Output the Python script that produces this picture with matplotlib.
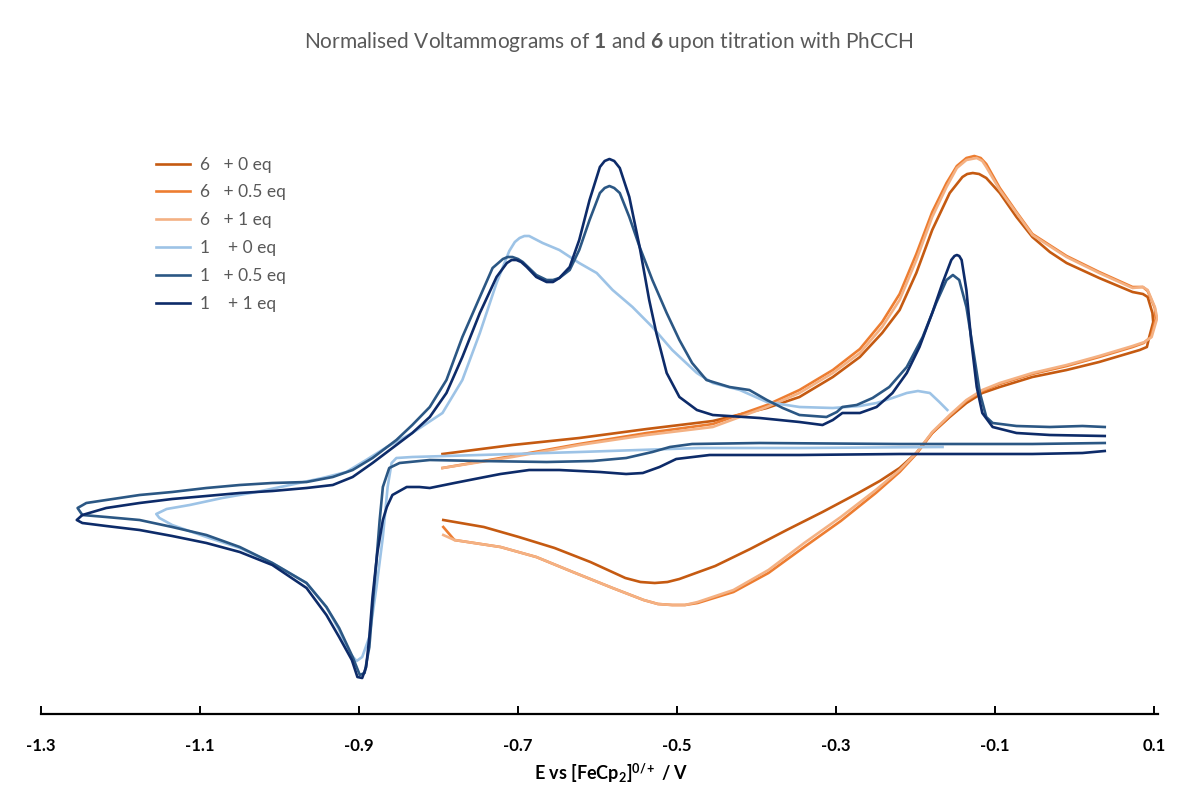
"""Normalised voltammograms of 1 and 6 upon titration with PhCCH."""

import numpy as np
import matplotlib
matplotlib.use("Agg")
import matplotlib.pyplot as plt
from matplotlib import rcParams

rcParams.update({
    "font.family": ["Lato", "DejaVu Sans"],
    "mathtext.fontset": "custom",
    "mathtext.rm": "Lato",
    "mathtext.bf": "Lato:bold",
    "mathtext.it": "Lato:italic",
})

# ---- data: potential E (V vs Fc) and normalised current ----
# 6 + 0 eq
E6_0 = [-0.795, -0.707, -0.623, -0.538, -0.455, -0.387, -0.346, -0.304, -0.270, -0.242,
        -0.220, -0.199, -0.179, -0.157, -0.141, -0.135, -0.128, -0.120, -0.111, -0.094,
        -0.073, -0.053, -0.031, -0.010, 0.031, 0.073, 0.086, 0.092, 0.098, 0.099,
        0.094, 0.091, 0.082, 0.031, -0.010, -0.053, -0.094, -0.116, -0.136, -0.157,
        -0.179, -0.199, -0.220, -0.245, -0.272, -0.317, -0.362, -0.408, -0.452, -0.497,
        -0.512, -0.528, -0.546, -0.565, -0.609, -0.654, -0.699, -0.743, -0.794]
I6_0 = [0.01, 0.10, 0.17, 0.26, 0.34, 0.47, 0.58, 0.78, 0.98, 1.22,
        1.45, 1.82, 2.25, 2.62, 2.78, 2.81, 2.82, 2.81, 2.77, 2.62,
        2.38, 2.18, 2.03, 1.92, 1.77, 1.63, 1.61, 1.58, 1.42, 1.33,
        1.18, 1.08, 1.05, 0.93, 0.85, 0.78, 0.68, 0.62, 0.52, 0.38,
        0.22, 0.02, -0.13, -0.26, -0.38, -0.57, -0.75, -0.94, -1.11, -1.24,
        -1.27, -1.28, -1.27, -1.23, -1.07, -0.93, -0.82, -0.72, -0.65]

# 6 + 0.5 eq
E6_05 = [-0.795, -0.707, -0.623, -0.538, -0.455, -0.387, -0.346, -0.304, -0.270, -0.242,
         -0.220, -0.199, -0.179, -0.161, -0.148, -0.136, -0.126, -0.118, -0.111, -0.094,
         -0.073, -0.053, -0.010, 0.031, 0.073, 0.086, 0.092, 0.101, 0.102, 0.096,
         0.087, 0.073, 0.031, -0.010, -0.053, -0.094, -0.116, -0.136, -0.157, -0.179,
         -0.199, -0.220, -0.250, -0.294, -0.340, -0.385, -0.429, -0.474, -0.490, -0.506,
         -0.524, -0.542, -0.581, -0.631, -0.677, -0.722, -0.780, -0.794]
I6_05 = [-0.13, -0.01, 0.11, 0.22, 0.31, 0.50, 0.65, 0.85, 1.06, 1.33,
         1.61, 2.01, 2.43, 2.72, 2.89, 2.97, 2.99, 2.97, 2.91, 2.67,
         2.43, 2.21, 1.99, 1.83, 1.68, 1.68, 1.64, 1.47, 1.36, 1.18,
         1.12, 1.08, 0.98, 0.89, 0.81, 0.71, 0.64, 0.54, 0.39, 0.22,
         0.01, -0.17, -0.38, -0.66, -0.92, -1.18, -1.37, -1.48, -1.50, -1.50,
         -1.49, -1.45, -1.33, -1.17, -1.02, -0.92, -0.85, -0.72]

# 6 + 1 eq
E6_1 = [-0.795, -0.707, -0.623, -0.538, -0.455, -0.387, -0.346, -0.304, -0.270, -0.242,
        -0.220, -0.199, -0.179, -0.161, -0.148, -0.136, -0.123, -0.116, -0.111, -0.094,
        -0.073, -0.053, -0.010, 0.031, 0.073, 0.086, 0.092, 0.101, 0.104, 0.097,
        0.088, 0.073, 0.031, -0.010, -0.053, -0.094, -0.116, -0.136, -0.157, -0.179,
        -0.199, -0.220, -0.250, -0.294, -0.340, -0.385, -0.429, -0.474, -0.490, -0.506,
        -0.524, -0.542, -0.581, -0.631, -0.677, -0.722, -0.780, -0.794]
I6_1 = [-0.13, -0.02, 0.10, 0.20, 0.28, 0.48, 0.62, 0.82, 1.02, 1.28,
        1.55, 1.95, 2.38, 2.68, 2.87, 2.95, 2.97, 2.94, 2.88, 2.65,
        2.42, 2.20, 1.98, 1.82, 1.67, 1.68, 1.65, 1.48, 1.37, 1.18,
        1.13, 1.09, 0.99, 0.90, 0.82, 0.72, 0.65, 0.55, 0.40, 0.23,
        0.02, -0.15, -0.35, -0.62, -0.88, -1.15, -1.35, -1.47, -1.50, -1.50,
        -1.49, -1.45, -1.33, -1.17, -1.02, -0.92, -0.85, -0.80]

# 1 + 0 eq
E1_0 = [-0.166, -0.346, -0.472, -0.623, -0.748, -0.833, -0.853, -0.859, -0.864, -0.870,
        -0.878, -0.887, -0.896, -0.903, -0.912, -0.925, -0.941, -0.966, -1.009, -1.050,
        -1.092, -1.135, -1.151, -1.155, -1.142, -1.113, -1.072, -1.029, -0.987, -0.946,
        -0.916, -0.891, -0.865, -0.833, -0.795, -0.770, -0.748, -0.727, -0.711, -0.704,
        -0.698, -0.692, -0.686, -0.669, -0.648, -0.623, -0.601, -0.581, -0.556, -0.531,
        -0.506, -0.475, -0.455, -0.421, -0.387, -0.346, -0.304, -0.270, -0.249, -0.229,
        -0.211, -0.197, -0.182, -0.170, -0.160]
I1_0 = [0.08, 0.07, 0.07, 0.03, 0.00, -0.02, -0.03, -0.08, -0.32, -0.82,
        -1.32, -1.82, -2.02, -2.06, -1.98, -1.75, -1.52, -1.28, -1.08, -0.93,
        -0.82, -0.70, -0.63, -0.59, -0.54, -0.50, -0.43, -0.37, -0.30, -0.23,
        -0.17, -0.05, 0.08, 0.22, 0.42, 0.75, 1.22, 1.72, 2.04, 2.13,
        2.17, 2.19, 2.19, 2.12, 2.05, 1.92, 1.82, 1.65, 1.48, 1.28,
        1.05, 0.82, 0.72, 0.65, 0.53, 0.48, 0.47, 0.49, 0.52, 0.57,
        0.62, 0.64, 0.62, 0.53, 0.45]

# 1 + 0.5 eq
E1_05 = [0.038, -0.053, -0.220, -0.396, -0.481, -0.509, -0.531, -0.564, -0.606, -0.664,
         -0.748, -0.811, -0.849, -0.862, -0.870, -0.874, -0.878, -0.883, -0.887, -0.893,
         -0.899, -0.908, -0.925, -0.941, -0.966, -1.009, -1.050, -1.092, -1.135, -1.176,
         -1.218, -1.248, -1.254, -1.243, -1.218, -1.176, -1.135, -1.092, -1.050, -1.009,
         -0.966, -0.933, -0.908, -0.883, -0.853, -0.833, -0.811, -0.790, -0.770, -0.748,
         -0.732, -0.719, -0.713, -0.707, -0.700, -0.694, -0.677, -0.664, -0.656, -0.648,
         -0.635, -0.623, -0.610, -0.597, -0.591, -0.585, -0.579, -0.572, -0.560, -0.547,
         -0.531, -0.513, -0.497, -0.481, -0.463, -0.434, -0.409, -0.387, -0.367, -0.346,
         -0.312, -0.299, -0.292, -0.274, -0.254, -0.233, -0.211, -0.191, -0.174, -0.161,
         -0.153, -0.145, -0.136, -0.128, -0.119, -0.111, -0.103, -0.073, -0.031, 0.010,
         0.038]
I1_05 = [0.12, 0.11, 0.11, 0.12, 0.11, 0.08, 0.03, -0.03, -0.06, -0.07,
         -0.06, -0.05, -0.08, -0.13, -0.32, -0.65, -1.05, -1.52, -1.92, -2.18,
         -2.20, -2.02, -1.73, -1.52, -1.28, -1.08, -0.92, -0.80, -0.72, -0.65,
         -0.62, -0.60, -0.53, -0.48, -0.45, -0.40, -0.37, -0.33, -0.30, -0.28,
         -0.27, -0.22, -0.15, -0.03, 0.15, 0.30, 0.48, 0.75, 1.18, 1.58,
         1.87, 1.96, 1.98, 1.98, 1.96, 1.93, 1.80, 1.75, 1.75, 1.77,
         1.85, 2.05, 2.35, 2.62, 2.67, 2.69, 2.67, 2.62, 2.38, 2.08,
         1.75, 1.42, 1.15, 0.92, 0.75, 0.68, 0.65, 0.55, 0.47, 0.40,
         0.38, 0.43, 0.48, 0.50, 0.57, 0.68, 0.88, 1.18, 1.52, 1.75,
         1.80, 1.75, 1.48, 1.08, 0.62, 0.38, 0.32, 0.29, 0.28, 0.29,
         0.28]

# 1 + 1 eq
E1_1 = [0.038, 0.010, -0.053, -0.136, -0.220, -0.346, -0.459, -0.501, -0.522, -0.543,
        -0.564, -0.597, -0.648, -0.686, -0.722, -0.748, -0.780, -0.811, -0.824, -0.840,
        -0.858, -0.865, -0.870, -0.877, -0.883, -0.887, -0.891, -0.896, -0.902, -0.909,
        -0.925, -0.941, -0.966, -1.009, -1.050, -1.092, -1.135, -1.176, -1.218, -1.248,
        -1.255, -1.248, -1.218, -1.176, -1.135, -1.092, -1.050, -1.009, -0.966, -0.933,
        -0.908, -0.883, -0.858, -0.833, -0.811, -0.790, -0.770, -0.748, -0.727, -0.714,
        -0.708, -0.702, -0.696, -0.689, -0.677, -0.664, -0.656, -0.648, -0.635, -0.623,
        -0.610, -0.597, -0.591, -0.585, -0.579, -0.572, -0.560, -0.547, -0.535, -0.526,
        -0.513, -0.497, -0.475, -0.455, -0.396, -0.346, -0.317, -0.304, -0.292, -0.270,
        -0.249, -0.229, -0.211, -0.195, -0.179, -0.166, -0.155, -0.151, -0.148, -0.145,
        -0.142, -0.136, -0.130, -0.123, -0.116, -0.103, -0.073, -0.031, 0.038]
I1_1 = [0.04, 0.02, 0.01, 0.01, 0.01, 0.00, 0.00, -0.04, -0.12, -0.18,
        -0.19, -0.17, -0.15, -0.15, -0.19, -0.23, -0.28, -0.33, -0.32, -0.32,
        -0.40, -0.52, -0.65, -0.98, -1.42, -1.82, -2.12, -2.23, -2.22, -2.05,
        -1.82, -1.60, -1.33, -1.10, -0.97, -0.88, -0.81, -0.75, -0.71, -0.68,
        -0.65, -0.60, -0.53, -0.48, -0.44, -0.41, -0.38, -0.36, -0.33, -0.30,
        -0.22, -0.08, 0.07, 0.22, 0.38, 0.62, 0.98, 1.42, 1.78, 1.92,
        1.95, 1.95, 1.93, 1.88, 1.78, 1.73, 1.73, 1.77, 1.88, 2.15,
        2.55, 2.88, 2.94, 2.96, 2.94, 2.87, 2.58, 2.08, 1.55, 1.22,
        0.82, 0.58, 0.45, 0.40, 0.37, 0.33, 0.30, 0.35, 0.42, 0.42,
        0.48, 0.62, 0.82, 1.08, 1.42, 1.72, 1.95, 1.99, 2.00, 1.99,
        1.95, 1.65, 1.15, 0.68, 0.42, 0.28, 0.22, 0.20, 0.19]

series = [
    (E6_0, I6_0, "#c55a11", "6   + 0 eq"),
    (E6_05, I6_05, "#ed7d31", "6   + 0.5 eq"),
    (E6_1, I6_1, "#f4b183", "6   + 1 eq"),
    (E1_0, I1_0, "#9dc3e6", "1    + 0 eq"),
    (E1_05, I1_05, "#2b5784", "1   + 0.5 eq"),
    (E1_1, I1_1, "#0d2b69", "1    + 1 eq"),
]

# ---- plot ----
fig = plt.figure(figsize=(11.98, 7.92), dpi=100)
ax = fig.add_axes([41 / 1198, 1 - 714 / 792, 1117 / 1198, 634 / 792])

for E, I, c, lab in series:
    ax.plot(E, I, color=c, lw=1.9, label=lab, solid_joinstyle="round")

ticks = np.arange(-1.3, 0.11, 0.2)
ax.set_xlim(-1.3, 0.105)
ax.set_ylim(-2.59, 3.75)
ax.set_xticks(ticks)
ax.set_xticklabels([f"{t:.1f}" for t in ticks])
ax.set_yticks([])
for s in ["left", "right", "top"]:
    ax.spines[s].set_visible(False)
ax.spines["bottom"].set_linewidth(1.6)
ax.spines["bottom"].set_color("black")
ax.tick_params(axis="x", direction="in", length=6, width=1.4, pad=17,
               labelsize=12)
for t in ax.get_xticklabels():
    t.set_fontweight("bold")

ax.set_xlabel(r"E vs [FeCp$_{\mathbf{2}}$]$^{\mathbf{0/+}}$ / V", fontsize=13,
              fontweight="bold")
ax.xaxis.set_label_coords((611 - 41) / 1117, -(773 - 714) / 634)
ax.xaxis.label.set_va("center")

fig.text(0.508, 1 - 42 / 792,
         r"Normalised Voltammograms of $\mathbf{1}$ and $\mathbf{6}$ upon titration with PhCCH",
         ha="center", va="center", fontsize=15, color="#595959")

leg = ax.legend(loc="upper left", bbox_to_anchor=(140 / 1198, 1 - 141 / 792),
                bbox_transform=fig.transFigure, frameon=False, fontsize=12.5,
                handlelength=2.0, handletextpad=0.55, labelspacing=0.68)
for t in leg.get_texts():
    t.set_color("#595959")

fig.savefig("out.png", dpi=100)
